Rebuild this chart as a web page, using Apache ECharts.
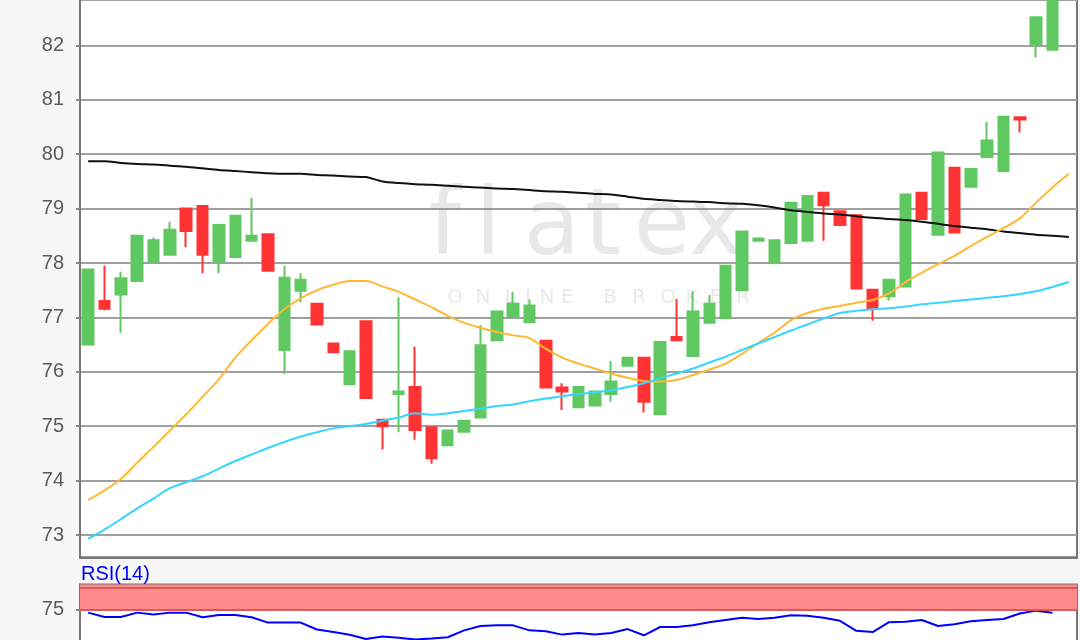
<!DOCTYPE html>
<html>
<head>
<meta charset="utf-8">
<script src="https://cdn.jsdelivr.net/npm/echarts@6/dist/echarts.min.js"></script>
<style>
html,body{margin:0;padding:0;background:#f6f6f6;overflow:hidden;}
#chart{width:1080px;height:720px;}
</style>
</head>
<body>
<div id="chart"></div>
<script>
// ---- data ----
const categories = Array.from({length: 61}, (_, i) => String(i + 1));

const opens  = [76.50,77.30,77.42,77.67,78.03,78.15,79.00,79.05,78.03,78.11,78.41,78.53,76.40,77.49,77.25,76.52,75.77,76.93,75.12,75.59,75.72,74.98,74.65,74.90,75.16,76.58,77.01,76.91,76.57,75.71,75.35,75.38,75.59,76.11,76.26,75.22,76.64,76.29,76.90,76.99,77.50,78.41,78.01,78.37,78.41,79.29,78.95,78.88,77.51,77.39,77.57,79.29,78.52,79.75,79.40,79.95,79.69,80.68,82.02,81.92,'-'];
const closes = [77.88,77.16,77.72,78.50,78.42,78.61,78.59,78.15,78.70,78.87,78.50,77.86,77.73,77.69,76.87,76.36,76.38,75.52,75.00,75.64,74.93,74.41,74.92,75.10,76.49,77.11,77.25,77.22,75.71,75.64,75.72,75.64,75.82,76.26,75.45,76.55,76.58,77.11,77.25,77.95,78.58,78.45,78.42,79.11,79.23,79.06,78.70,77.53,77.16,77.69,79.26,78.81,80.03,78.56,79.73,80.25,80.69,80.64,82.52,83.30,'-'];
const lows   = [76.50,77.13,76.72,77.67,78.03,78.15,78.29,77.81,77.81,78.11,78.41,77.86,75.96,77.28,76.87,76.36,75.77,75.52,74.57,74.89,74.75,74.31,74.65,74.90,75.16,76.58,77.01,76.91,75.71,75.30,75.35,75.38,75.45,76.11,75.25,75.22,76.58,76.29,76.90,76.99,77.50,78.41,78.01,78.37,78.41,78.41,78.70,77.53,76.94,77.31,77.57,78.81,78.52,78.56,79.40,79.95,79.69,80.40,81.78,81.92,'-'];
const highs  = [77.88,77.95,77.84,78.50,78.47,78.76,79.00,79.05,78.72,78.87,79.20,78.53,77.95,77.81,77.25,76.52,76.38,76.93,75.12,77.37,76.46,74.98,74.92,75.10,76.86,77.11,77.47,77.33,76.57,75.79,75.72,75.64,76.20,76.26,76.26,76.55,77.34,77.48,77.41,77.95,78.58,78.45,78.42,79.11,79.23,79.29,78.95,78.88,77.51,77.69,79.26,79.29,80.03,79.75,79.73,80.59,80.69,80.68,82.52,83.40,'-'];

const maLong = [79.87,79.87,79.84,79.82,79.81,79.79,79.77,79.74,79.71,79.69,79.67,79.65,79.64,79.64,79.62,79.61,79.59,79.58,79.50,79.47,79.45,79.44,79.42,79.40,79.39,79.37,79.36,79.34,79.32,79.31,79.29,79.27,79.26,79.22,79.18,79.16,79.14,79.13,79.12,79.10,79.09,79.06,79.02,78.97,78.94,78.91,78.89,78.86,78.83,78.81,78.79,78.76,78.72,78.68,78.65,78.62,78.58,78.55,78.52,78.50,78.48];
const maShort = [73.64,73.82,74.03,74.33,74.62,74.92,75.22,75.54,75.86,76.26,76.58,76.88,77.15,77.35,77.50,77.60,77.67,77.67,77.57,77.47,77.33,77.19,77.03,76.90,76.81,76.73,76.67,76.62,76.42,76.26,76.15,76.06,75.97,75.89,75.83,75.82,75.85,75.94,76.04,76.15,76.33,76.53,76.72,76.95,77.08,77.16,77.21,77.27,77.32,77.44,77.65,77.82,77.98,78.13,78.31,78.48,78.64,78.82,79.11,79.39,79.64];
const maMid = [72.93,73.10,73.29,73.49,73.67,73.86,73.97,74.08,74.22,74.36,74.48,74.60,74.71,74.81,74.89,74.96,75.00,75.04,75.10,75.16,75.24,75.21,75.24,75.28,75.32,75.37,75.40,75.46,75.51,75.55,75.59,75.62,75.66,75.72,75.79,75.88,75.97,76.06,76.17,76.28,76.40,76.52,76.64,76.76,76.87,76.98,77.08,77.12,77.15,77.17,77.20,77.24,77.27,77.30,77.33,77.36,77.39,77.43,77.48,77.56,77.65];

const rsi = [71.5,66.4,66.4,71.5,69.2,71.5,71.5,66.1,68.8,68.8,66.1,60,60,60,52,49.1,46,41,44,42.5,40.5,41.5,43,51,56,56.8,56.8,51,50,46.1,48,46.1,48,52.5,45.3,54.9,54.9,57,60.5,63,65.5,64.1,65.5,68.4,68,65.5,62,50.5,49,60.5,61,63,56,58,61.5,63,64.1,70.5,73.8,71.3,'-'];

const rsiLabelValues = [25, 75];

// ---- chart ----
const candles = opens.map((o, i) => [o, closes[i], lows[i], highs[i]]);

const chart = echarts.init(document.getElementById('chart'), null, {renderer: 'canvas'});

const wmColor = 'rgba(110,110,110,0.16)';
const bigLetters = ['f','l','a','t','e','x'];
const bigX = [445, 488, 552, 603, 662, 716];
const smallLetters = ['O','N','L','I','N','E','B','R','O','K','E','R'];
const smallX = [455, 483, 510, 528, 547, 567, 610, 639, 668, 692, 716, 743];
const graphics = [];
bigLetters.forEach((ch, k) => graphics.push({
  type: 'text', z: 1, silent: true, x: bigX[k], y: 230,
  style: {text: ch, fill: wmColor, font: 'normal 92px "DejaVu Sans"', textAlign: 'center', textVerticalAlign: 'middle'}
}));
smallLetters.forEach((ch, k) => graphics.push({
  type: 'text', z: 1, silent: true, x: smallX[k], y: 298,
  style: {text: ch, fill: wmColor, font: 'normal 20px "DejaVu Sans"', textAlign: 'center', textVerticalAlign: 'middle'}
}));

const labelFont = {fontSize: 20, color: '#5a5a5a', fontFamily: 'Liberation Sans, Arial, sans-serif'};

chart.setOption({
  animation: false,
  backgroundColor: '#f6f6f6',
  title: {
    text: 'RSI(14)', left: 81, top: 564, padding: 0,
    textStyle: {color: '#0000ff', fontSize: 20, fontWeight: 'normal', fontFamily: 'Liberation Sans, Arial, sans-serif'}
  },
  graphic: graphics,
  grid: [
    {left: 80, right: 3, top: -3, height: 560.3, show: true, backgroundColor: '#ffffff', borderColor: '#777', borderWidth: 2},
    {left: 80, right: 3, top: 584.5, height: 90, show: true, backgroundColor: '#ffffff', borderColor: '#777', borderWidth: 2}
  ],
  xAxis: [
    {type: 'category', gridIndex: 0, data: categories, boundaryGap: true,
     axisLine: {show: true, lineStyle: {color: '#777', width: 2}}, axisTick: {show: false}, axisLabel: {show: false}, splitLine: {show: false}},
    {type: 'category', gridIndex: 1, data: categories, boundaryGap: true,
     axisLine: {show: false}, axisTick: {show: false}, axisLabel: {show: false}, splitLine: {show: false}}
  ],
  yAxis: [
    {type: 'value', gridIndex: 0, min: 72.59, max: 82.835, splitNumber: 10, scale: true,
     axisLine: {show: true, lineStyle: {color: '#777', width: 2}},
     axisTick: {show: true, length: 4, lineStyle: {color: '#888', width: 2}},
     axisLabel: Object.assign({showMinLabel: false, showMaxLabel: false, margin: 16}, labelFont),
     splitLine: {show: true, lineStyle: {color: '#a0a0a0', width: 2}}},
    {type: 'value', gridIndex: 1, min: 0, max: 104, interval: 25,
     axisLine: {show: true, lineStyle: {color: '#777', width: 2}},
     axisTick: {show: true, length: 4, customValues: rsiLabelValues, lineStyle: {color: '#888', width: 2}},
     axisLabel: Object.assign({margin: 16, customValues: rsiLabelValues,
       formatter: v => (rsiLabelValues.indexOf(v) >= 0 ? String(v) : '')}, labelFont),
     splitLine: {show: true, lineStyle: {color: '#a0a0a0', width: 2}}}
  ],
  series: [
    {type: 'candlestick', xAxisIndex: 0, yAxisIndex: 0, data: candles, barWidth: 11, clip: true,
     itemStyle: {color: '#60c860', color0: '#ff3333', borderColor: '#60c860', borderColor0: '#ff3333', borderColorDoji: '#60c860', borderWidth: 2}},
    {type: 'line', xAxisIndex: 0, yAxisIndex: 0, data: maLong, symbol: 'none', smooth: 0.2, clip: true,
     lineStyle: {color: '#111111', width: 2}, z: 3},
    {type: 'line', xAxisIndex: 0, yAxisIndex: 0, data: maShort, symbol: 'none', smooth: 0.3, clip: true,
     lineStyle: {color: '#ffb833', width: 2}, z: 3},
    {type: 'line', xAxisIndex: 0, yAxisIndex: 0, data: maMid, symbol: 'none', smooth: 0.3, clip: true,
     lineStyle: {color: '#33d6ff', width: 2}, z: 3},
    {type: 'line', xAxisIndex: 1, yAxisIndex: 1, data: rsi, symbol: 'none', clip: true,
     lineStyle: {color: '#0000ff', width: 2}, z: 4,
     markArea: {silent: true, itemStyle: {color: '#ff8a8a'}, data: [[{yAxis: 75}, {yAxis: 104}]]},
     markLine: {silent: true, symbol: 'none', label: {show: false},
       lineStyle: {color: '#d45c5c', width: 2, type: 'solid'}, data: [{yAxis: 100}, {yAxis: 75}]}}
  ]
});
</script>
</body>
</html>
